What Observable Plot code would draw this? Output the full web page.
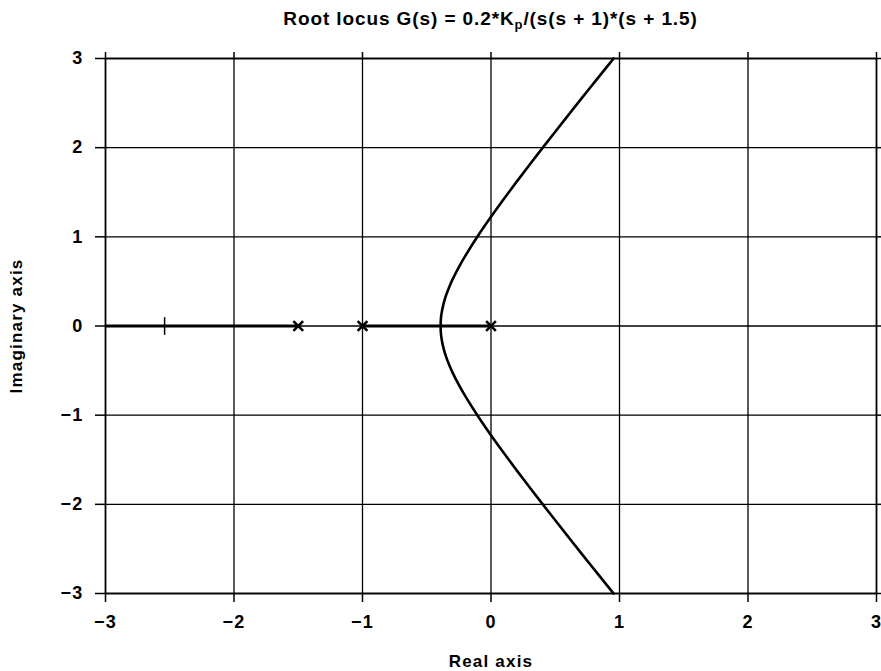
<!DOCTYPE html>
<html>
<head>
<meta charset="utf-8">
<script src="https://cdn.jsdelivr.net/npm/d3@7"></script>
<script src="https://cdn.jsdelivr.net/npm/@observablehq/plot@0.6"></script>
<style>
  html, body { margin: 0; padding: 0; background: #fff; }
  #wrap { position: relative; width: 881px; height: 671px; font-family: "Liberation Sans", Arial, sans-serif; }
  #title { position: absolute; top: 8px; left: 85px; width: 811px; text-align: center; font-size: 19px; font-weight: bold; letter-spacing: 0.9px; color: #000; line-height: 22px; }
  #title sub { font-size: 13px; vertical-align: -4px; line-height: 0; }
  svg text { font-weight: bold; letter-spacing: 1.2px; }
</style>
</head>
<body>
<div id="wrap">
  <div id="title">Root locus G(s) = 0.2*K<sub>p</sub>/(s(s + 1)*(s + 1.5)</div>
</div>
<script>
// Tick values
const xTicks = [-3, -2, -1, 0, 1, 2, 3];
const yTicks = [-3, -2, -1, 0, 1, 2, 3];

// Open-loop poles (x marks on the real axis)
const poleRe = [-1.5, -1, 0];

// Small marker on the real-axis branch
const markRe = [-2.54];

// Real-axis locus segments
const segStart = [-3, -1];
const segEnd = [-1.5, 0];

// Upper complex branch (real part, imaginary part)
const locusRe = [-0.392, -0.39, -0.385, -0.37, -0.35, -0.32, -0.3, -0.25, -0.2, -0.1, 0, 0.1, 0.2, 0.3, 0.4, 0.5, 0.6, 0.7, 0.8, 0.9, 0.954];
const locusIm = [0, 0.079, 0.140, 0.246, 0.343, 0.455, 0.520, 0.661, 0.787, 1.015, 1.225, 1.425, 1.619, 1.808, 1.995, 2.179, 2.362, 2.544, 2.724, 2.903, 3.0];

const upper = locusRe.map((re, i) => ({re, im: locusIm[i]}));
const lower = upper.map(d => ({re: d.re, im: -d.im})).reverse();
const branch = lower.concat(upper.slice(1));

const poles = poleRe.map(re => ({re, im: 0}));
const marks = markRe.map(re => ({re, im: 0}));
const segs = segStart.map((s, i) => ({x1: s, x2: segEnd[i]}));

const vbar = {draw(ctx, size) { const r = Math.sqrt(size); ctx.moveTo(0, -r); ctx.lineTo(0, r); }};

const fmt = d => d < 0 ? "\u2212" + Math.abs(d) : String(d);

const chart = Plot.plot({
  width: 881,
  height: 671,
  marginTop: 58,
  marginBottom: 78,
  marginLeft: 105,
  marginRight: 5,
  style: {fontFamily: "Liberation Sans, Arial, sans-serif", fontSize: "18px", background: "#fff", color: "#000"},
  x: {domain: [-3, 3]},
  y: {domain: [-3, 3]},
  marks: [
    Plot.gridX(xTicks, {stroke: "#000", strokeOpacity: 1, strokeWidth: 1.3}),
    Plot.gridY(yTicks, {stroke: "#000", strokeOpacity: 1, strokeWidth: 1.3}),
    Plot.frame({stroke: "#000", strokeWidth: 1.6}),
    Plot.axisX({anchor: "bottom", ticks: xTicks, tickSize: 9, tickPadding: 13, tickFormat: fmt, strokeWidth: 1.5, fontSize: 18,
      label: null}),
    Plot.axisX({anchor: "top", ticks: xTicks, tickSize: 7, tickFormat: () => "", strokeWidth: 1.5, label: null}),
    Plot.axisY({anchor: "left", ticks: yTicks, tickSize: 10, tickPadding: 12, tickFormat: fmt, strokeWidth: 1.5, fontSize: 18,
      label: null}),
    Plot.axisY({anchor: "right", ticks: yTicks, tickSize: 5, tickFormat: () => "", strokeWidth: 1.5, label: null}),
    Plot.text(["Real axis"], {frameAnchor: "bottom", dy: 73, fontSize: 17, lineAnchor: "bottom", textAnchor: "middle"}),
    Plot.text(["Imaginary axis"], {frameAnchor: "left", dx: -96, rotate: -90, fontSize: 17, lineAnchor: "top", textAnchor: "middle"}),
    Plot.ruleY(segs, {y: 0, x1: "x1", x2: "x2", stroke: "#000", strokeWidth: 3}),
    Plot.line(branch, {x: "re", y: "im", curve: "catmull-rom", stroke: "#000", strokeWidth: 2.6}),
    Plot.dot(poles, {x: "re", y: "im", symbol: "times", r: 4.5, stroke: "#000", strokeWidth: 2.6}),
    Plot.dot(marks, {x: "re", y: "im", symbol: vbar, r: 5, stroke: "#000", strokeWidth: 1.5})
  ]
});
document.getElementById("wrap").prepend(chart);
</script>
</body>
</html>
